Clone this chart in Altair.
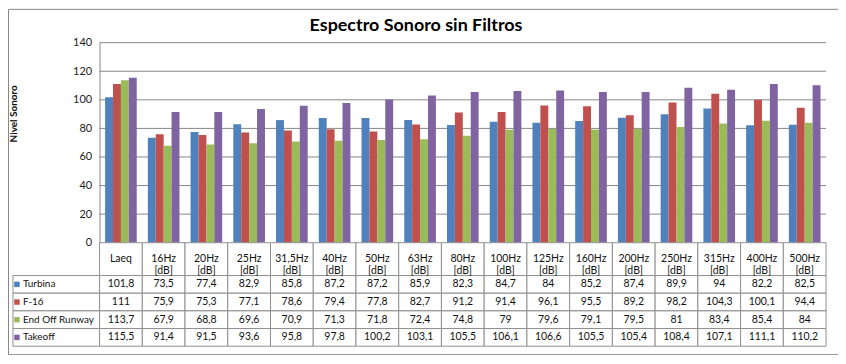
import altair as alt
import pandas as pd

# ---------------- data ----------------
categories = ["Laeq", "16Hz", "20Hz", "25Hz", "31,5Hz", "40Hz", "50Hz", "63Hz", "80Hz",
              "100Hz", "125Hz", "160Hz", "200Hz", "250Hz", "315Hz", "400Hz", "500Hz"]
series_names = ["Turbina", "F-16", "End Off Runway", "Takeoff"]
turbina = [101.8, 73.5, 77.4, 82.9, 85.8, 87.2, 87.2, 85.9, 82.3, 84.7, 84, 85.2, 87.4, 89.9, 94, 82.2, 82.5]
f16 = [111, 75.9, 75.3, 77.1, 78.6, 79.4, 77.8, 82.7, 91.2, 91.4, 96.1, 95.5, 89.2, 98.2, 104.3, 100.1, 94.4]
end_off_runway = [113.7, 67.9, 68.8, 69.6, 70.9, 71.3, 71.8, 72.4, 74.8, 79, 79.6, 79.1, 79.5, 81, 83.4, 85.4, 84]
takeoff = [115.5, 91.4, 91.5, 93.6, 95.8, 97.8, 100.2, 103.1, 105.5, 106.1, 106.6, 105.5, 105.4, 108.4, 107.1, 111.1, 110.2]
y_ticks = [0, 20, 40, 60, 80, 100, 120, 140]
colors = ["#4F81BD", "#C0504D", "#9BBB59", "#8064A2"]

# ---------------- layout ----------------
W, H = 834, 347
PX_L, PX_R = 92, 822
PY_T, PY_B = 34, 235
TB_B = 339
HDR = 1.86
NROWS = 4
FONT = "Lato"
GRID = "#868686"
LINE = "#8f8f8f"

def fmt(v):
    return f"{v:g}".replace(".", ",")

all_vals = [turbina, f16, end_off_runway, takeoff]
rows = []
for i, (s, vals) in enumerate(zip(series_names, all_vals)):
    for c, v in zip(categories, vals):
        rows.append(dict(cat=c, series=s, value=v, label=fmt(v),
                         r=HDR + i, r2=HDR + i + 1, rm=HDR + i + 0.5))
df = pd.DataFrame(rows)

hdr_df = pd.DataFrame({
    "cat": categories,
    "hdr": [c if c == "Laeq" else f"{c}\n[dB]" for c in categories],
    "r": 0.0, "r2": HDR, "rm": HDR / 2,
})
lab_df = pd.DataFrame({
    "series": series_names,
    "r": [HDR + i for i in range(NROWS)],
    "r2": [HDR + i + 1 for i in range(NROWS)],
    "rm": [HDR + i + 0.5 for i in range(NROWS)],
})
grid_df = pd.DataFrame({"g": y_ticks[1:]})
title_df = pd.DataFrame({"t": ["Espectro Sonoro sin Filtros"]})

x_scale = alt.Scale(domain=categories, range=[PX_L, PX_R], paddingInner=0, paddingOuter=0)
y_scale = alt.Scale(domain=[0, 140], range=[PY_B, PY_T], nice=False, zero=True)
t_scale = alt.Scale(domain=[0, HDR + NROWS], range=[PY_B, TB_B], nice=False, zero=False)
c_scale = alt.Scale(domain=series_names, range=colors)

X = alt.X("cat:N", scale=x_scale, axis=None)

grid = alt.Chart(grid_df).mark_rule(color=GRID, strokeWidth=1).encode(
    y=alt.Y("g:Q", scale=y_scale, axis=None),
    x=alt.value(PX_L), x2=alt.value(PX_R),
)

bars = alt.Chart(df).mark_bar().encode(
    x=X,
    xOffset=alt.XOffset("series:N", scale=alt.Scale(domain=series_names, paddingOuter=0.7, paddingInner=0)),
    y=alt.Y("value:Q", scale=y_scale, axis=alt.Axis(
        values=y_ticks, offset=-PX_L, grid=False, ticks=False, domain=True,
        domainColor=GRID, labelFont=FONT, labelFontSize=11, labelColor="#222",
        labelPadding=8, title="Nivel Sonoro", titleFont=FONT, titleFontSize=10,
        titleFontWeight="bold", titleColor="#111", titleX=6 - PX_L, titleY=105,
        titleAngle=270, titleAlign="center", titleBaseline="middle")),
    color=alt.Color("series:N", scale=c_scale, legend=None),
)

cells = alt.Chart(df).mark_rect(fill="white", stroke=LINE, strokeWidth=1).encode(
    x=X, y=alt.Y("r:Q", scale=t_scale, axis=None), y2="r2:Q")
hdr_cells = alt.Chart(hdr_df).mark_rect(fill="white", stroke=LINE, strokeWidth=1).encode(
    x=X, y=alt.Y("r:Q", scale=t_scale, axis=None), y2="r2:Q")
lab_cells = alt.Chart(lab_df).mark_rect(fill="white", stroke=LINE, strokeWidth=1).encode(
    x=alt.value(5), x2=alt.value(PX_L), y=alt.Y("r:Q", scale=t_scale, axis=None), y2="r2:Q")

vals_text = alt.Chart(df).mark_text(font=FONT, fontSize=10.5, color="#111", baseline="middle").encode(
    x=X, y=alt.Y("rm:Q", scale=t_scale, axis=None), text="label:N")
hdr_text = alt.Chart(hdr_df).mark_text(font=FONT, fontSize=10.5, color="#111", baseline="middle",
                                       lineBreak="\n", lineHeight=12).encode(
    x=X, y=alt.Y("rm:Q", scale=t_scale, axis=None), text="hdr:N")
lab_text = alt.Chart(lab_df).mark_text(font=FONT, fontSize=10, color="#111", baseline="middle",
                                       align="left").encode(
    x=alt.value(15), y=alt.Y("rm:Q", scale=t_scale, axis=None), text="series:N")
squares = alt.Chart(lab_df).mark_point(shape="square", filled=True, size=30, opacity=1).encode(
    x=alt.value(9), y=alt.Y("rm:Q", scale=t_scale, axis=None),
    color=alt.Color("series:N", scale=c_scale, legend=None))

title = alt.Chart(title_df).mark_text(font=FONT, fontSize=18, fontWeight="bold", color="#000",
                                      baseline="alphabetic").encode(
    x=alt.value(410), y=alt.value(22), text="t:N")

chart = alt.layer(
    grid, bars, hdr_cells, cells, lab_cells, vals_text, hdr_text, lab_text, squares, title
).resolve_scale(y="independent").properties(
    width=W, height=H, autosize=alt.AutoSizeParams(type="none"), padding=0,
    background="white",
).configure_view(stroke=GRID, strokeWidth=1)

chart.save("out.html", embed_options={"renderer": "svg", "actions": False})
